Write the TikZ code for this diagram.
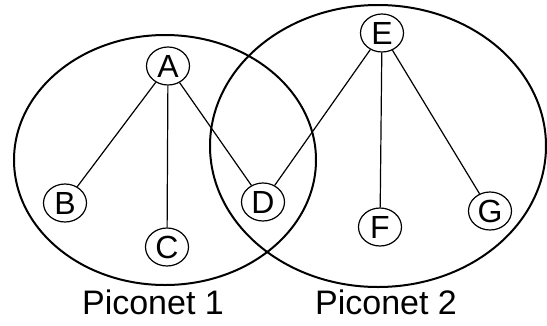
\documentclass[tikz,border=0pt]{standalone}
\usepackage{fontspec}
\setmainfont{Liberation Sans}
\usetikzlibrary{shapes.geometric}
\begin{document}
\begin{tikzpicture}[x=1pt,y=-1pt,
  station/.style={ellipse,draw,line width=1.2pt,inner sep=0pt,
    minimum width=43pt,minimum height=38pt,
    font=\fontsize{32}{32}\selectfont},
  link/.style={line width=1.2pt},
  piconet/.style={draw,line width=2pt},
  caption/.style={font=\fontsize{34}{34}\selectfont,inner sep=0pt}]
\useasboundingbox (0,0) rectangle (547,325);
% the two piconets
\draw[piconet] (165,160) ellipse [x radius=151, y radius=125];
\draw[piconet] (378,146) ellipse [x radius=168, y radius=141];
% stations
\node[station] (A) at (168,66) {A};
\node[station] (B) at (65,203) {B};
\node[station] (C) at (167,247) {C};
\node[station] (D) at (263,202) {D};
\node[station] (E) at (382,33) {E};
\node[station] (F) at (380,227) {F};
\node[station] (G) at (490,211) {G};
% links
\draw[link] (A) -- (B);
\draw[link] (A) -- (C);
\draw[link] (A) -- (D);
\draw[link] (E) -- (D);
\draw[link] (E) -- (F);
\draw[link] (E) -- (G);
% captions
\node[caption] (p1) at (153,302) {Piconet 1};
\node[caption] (p2) at (386,302) {Piconet 2};
\end{tikzpicture}
\end{document}
